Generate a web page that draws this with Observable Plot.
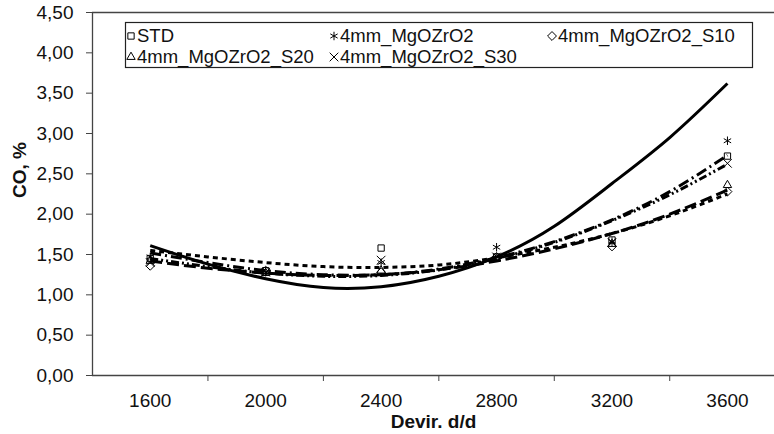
<!DOCTYPE html>
<html>
<head>
<meta charset="utf-8">
<script src="https://cdn.jsdelivr.net/npm/d3@7"></script>
<script src="https://cdn.jsdelivr.net/npm/@observablehq/plot@0.6"></script>
<style>
  html, body { margin: 0; padding: 0; background: #fff; overflow: hidden; }
  #wrap { position: relative; width: 774px; height: 434px; }
  #legend { position: absolute; left: 0; top: 0; pointer-events: none; }
</style>
</head>
<body>
<div id="wrap"></div>
<script>
// Categories (engine speed, d/d)
const rpm = [1600, 2000, 2400, 2800, 3200, 3600];
const tickBounds = [1800, 2200, 2600, 3000, 3400];
const yTicks = [0, 0.5, 1, 1.5, 2, 2.5, 3, 3.5, 4, 4.5];

// Measured CO, % (markers)
const stdVals  = [1.45, 1.30, 1.58, 1.47, 1.68, 2.72];
const mgoVals  = [1.47, 1.28, 1.40, 1.59, 1.66, 2.91];
const s10Vals  = [1.36, 1.30, 1.28, 1.47, 1.60, 2.28];
const s20Vals  = [1.42, 1.27, 1.30, 1.45, 1.63, 2.36];
const s30Vals  = [1.40, 1.28, 1.43, 1.47, 1.65, 2.63];

// Trend lines
const trendRpm = [1600, 1800, 2000, 2200, 2400, 2600, 2800, 3000, 3200, 3400, 3600];
const stdTrend = [1.61, 1.38, 1.20, 1.09, 1.10, 1.23, 1.47, 1.85, 2.38, 2.95, 3.62];
const mgoTrend = [1.52, 1.40, 1.30, 1.25, 1.25, 1.32, 1.46, 1.66, 1.93, 2.28, 2.73];
const s10Trend = [1.55, 1.47, 1.40, 1.35, 1.34, 1.37, 1.46, 1.59, 1.76, 1.98, 2.25];
const s20Trend = [1.42, 1.33, 1.27, 1.24, 1.25, 1.31, 1.42, 1.57, 1.76, 2.00, 2.30];
const s30Trend = [1.45, 1.35, 1.27, 1.23, 1.24, 1.31, 1.45, 1.65, 1.92, 2.24, 2.62];

const seriesNames = ["STD", "4mm_MgOZrO2", "4mm_MgOZrO2_S10", "4mm_MgOZrO2_S20", "4mm_MgOZrO2_S30"];
const seriesVals = [stdVals, mgoVals, s10Vals, s20Vals, s30Vals];
const seriesTrends = [stdTrend, mgoTrend, s10Trend, s20Trend, s30Trend];
const symbols = ["square2", "asterisk", "diamond2", "triangle2", "times"];
const dashes = [null, "11,4,2,4", "5,4", "12,5", "8,3,2,3,2,3"];

const points = [];
seriesNames.forEach((s, i) => rpm.forEach((r, j) => points.push({series: s, rpm: r, v: seriesVals[i][j], sym: symbols[i]})));

const fmt = d => d.toFixed(2).replace(".", ",");
const axisColor = "#444";

const lineMarks = seriesNames.map((s, i) => Plot.line(trendRpm.map((r, j) => ({rpm: r, v: seriesTrends[i][j]})), {
  x: "rpm", y: "v", curve: "natural", stroke: "#000", strokeWidth: 3,
  strokeDasharray: dashes[i], strokeLinecap: "butt"
}));

const chart = Plot.plot({
  width: 774, height: 434,
  marginLeft: 92, marginRight: 0, marginTop: 12, marginBottom: 59,
  style: {fontFamily: "'Liberation Sans', Arial, sans-serif", fontSize: "19px", color: "#111", background: "#fff"},
  x: {type: "linear", domain: [1400, 3763], axis: null},
  y: {domain: [0, 4.5], axis: null},
  marks: [
    Plot.ruleY([4.5], {stroke: axisColor, strokeWidth: 1.3}),
    Plot.ruleY([0], {stroke: axisColor, strokeWidth: 1.3}),
    Plot.ruleX([1400], {stroke: axisColor, strokeWidth: 1.3}),
    Plot.axisY({ticks: yTicks, tickSize: 6, tickPadding: 13, tickFormat: fmt, label: null, stroke: axisColor, fontSize: 19}),
    Plot.axisX({ticks: tickBounds, tickSize: 6, tickFormat: () => "", label: null, stroke: axisColor}),
    Plot.axisX({ticks: rpm, tickSize: 0, tickPadding: 18, tickFormat: d => String(d), label: null, fontSize: 19}),
    Plot.text(["Devir. d/d"], {frameAnchor: "bottom", dy: 52, lineAnchor: "bottom", fontWeight: "bold", fontSize: 19}),
    Plot.text(["CO, %"], {frameAnchor: "left", dx: -73, dy: 4, rotate: -90, fontWeight: "bold", fontSize: 19}),
    ...lineMarks,
    Plot.dot(points, {x: "rpm", y: "v", symbol: "sym", r: 4, stroke: "#000", strokeWidth: 1, fill: "none"})
  ]
});
document.getElementById("wrap").appendChild(chart);

// Legend overlay
const lg = d3.select("#wrap").append("svg").attr("id", "legend").attr("width", 774).attr("height", 434);
lg.append("rect").attr("x", 125.5).attr("y", 22.5).attr("width", 627).attr("height", 45)
  .attr("fill", "#fff").attr("stroke", "#222").attr("stroke-width", 1.2);
const legendPos = [[131, 36], [334, 36], [552, 36], [131, 57], [334, 57]];
const d3sym = {square2: d3.symbolSquare2, asterisk: d3.symbolAsterisk, diamond2: d3.symbolDiamond2, triangle2: d3.symbolTriangle2, times: d3.symbolTimes};
seriesNames.forEach((s, i) => {
  const [lx, ly] = legendPos[i];
  lg.append("path").attr("transform", `translate(${lx},${ly})`)
    .attr("d", d3.symbol(d3sym[symbols[i]], Math.PI * 16)())
    .attr("fill", "none").attr("stroke", "#000").attr("stroke-width", 1);
  lg.append("text").attr("x", lx + 6).attr("y", ly).attr("dy", "0.35em")
    .attr("font-family", "'Liberation Sans', Arial, sans-serif").attr("font-size", 18.5)
    .attr("fill", "#111").text(s);
});
</script>
</body>
</html>
